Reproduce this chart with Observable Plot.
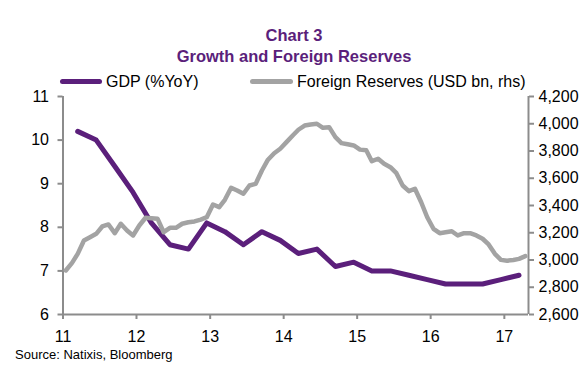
<!DOCTYPE html>
<html>
<head>
<meta charset="utf-8">
<script src="https://cdn.jsdelivr.net/npm/d3@7"></script>
<script src="https://cdn.jsdelivr.net/npm/@observablehq/plot@0.6"></script>
<style>
  body { margin: 0; background: #fff; font-family: "Liberation Sans", Arial, sans-serif; }
  #wrap { position: relative; width: 588px; height: 375px; overflow: hidden; background: #fff; }
  .title { position: absolute; left: 0; width: 588px; text-align: center; font-weight: bold;
           font-size: 16.5px; line-height: 20px; color: #5b1f7b; white-space: nowrap; z-index: 2; }
  .lg-line { position: absolute; height: 5px; border-radius: 2.5px; z-index: 2; }
  .lg-text { position: absolute; font-size: 16px; line-height: 20px; color: #000; white-space: nowrap; z-index: 2; }
  #chart { position: absolute; left: 0; top: 84px; z-index: 1; }
  .caption { position: absolute; left: 15px; top: 349px; font-size: 13px; line-height: 12px; color: #000; white-space: nowrap; z-index: 2; }
</style>
</head>
<body>
<div id="wrap">
  <div class="title" style="top:25px">Chart 3</div>
  <div class="title" style="top:46px">Growth and Foreign Reserves</div>
  <div class="lg-line" style="left:60px;top:79px;width:42px;background:#5b1f7b"></div>
  <div class="lg-text" style="left:106px;top:72px">GDP (%YoY)</div>
  <div class="lg-line" style="left:250px;top:79px;width:43px;background:#a3a3a3"></div>
  <div class="lg-text" style="left:297px;top:72px">Foreign Reserves (USD bn, rhs)</div>
  <div id="chart"></div>
  <div class="caption">Source: Natixis, Bloomberg</div>
</div>
<script>
// GDP (%YoY), quarterly, 2011Q1 .. 2017Q1
const gdpQuarters = ["2011Q1","2011Q2","2011Q3","2011Q4","2012Q1","2012Q2","2012Q3","2012Q4",
  "2013Q1","2013Q2","2013Q3","2013Q4","2014Q1","2014Q2","2014Q3","2014Q4",
  "2015Q1","2015Q2","2015Q3","2015Q4","2016Q1","2016Q2","2016Q3","2016Q4","2017Q1"];
const gdpValues = [10.2, 10.0, 9.4, 8.8, 8.1, 7.6, 7.5, 8.1,
  7.9, 7.6, 7.9, 7.7, 7.4, 7.5, 7.1, 7.2,
  7.0, 7.0, 6.9, 6.8, 6.7, 6.7, 6.7, 6.8, 6.9];

// Foreign reserves (USD bn), monthly, Jan 2011 .. Apr 2017
const reserveStart = "2011-01";
const reserveValues = [
  2923, 2979, 3045, 3143, 3167, 3192, 3246, 3261, 3197, 3266, 3217, 3180,
  3253, 3310, 3307, 3302, 3204, 3236, 3236, 3266, 3277, 3283, 3297, 3314,
  3407, 3388, 3442, 3530, 3510, 3486, 3547, 3559, 3657, 3736, 3784, 3817,
  3865, 3914, 3956, 3987, 3995, 4000, 3970, 3975, 3902, 3858, 3849, 3841,
  3810, 3805, 3725, 3743, 3706, 3681, 3637, 3547, 3505, 3523, 3424, 3314,
  3229, 3197, 3204, 3211, 3180, 3197, 3197, 3180, 3156, 3114, 3045, 3001,
  2995, 3000, 3008, 3028];

const yearTickLabels = ["11","12","13","14","15","16","17"];
const leftTicks = [6, 7, 8, 9, 10, 11];
const rightTicks = [2600, 2800, 3000, 3200, 3400, 3600, 3800, 4000, 4200];

const purple = "#5b1f7b";
const gray = "#a3a3a3";
const axisGray = "#8c8c8c";

// build tables
const gdp = gdpQuarters.map((q, i) => {
  const y = +q.slice(0, 4), qq = +q.slice(5);
  return {date: new Date(Date.UTC(y, qq * 3 - 1, 15)), v: gdpValues[i]};
});
const [sy, sm] = reserveStart.split("-").map(Number);
const reserves = reserveValues.map((v, i) => ({date: new Date(Date.UTC(sy, sm - 1 + i, 15)), v}));
const yearTicks = yearTickLabels.map(s => new Date(Date.UTC(2000 + +s, 0, 1)));

const xStart = new Date(Date.UTC(2011, 0, 1));
const xEnd = new Date(Date.UTC(2017, 4, 1));
const toLeft = d3.scaleLinear([2600, 4200], [6, 11]);

const chart = Plot.plot({
  width: 588,
  height: 264,
  marginTop: 12,
  marginBottom: 34,
  marginLeft: 62.5,
  marginRight: 60,
  style: {fontFamily: "'Liberation Sans', Arial, sans-serif", fontSize: "16px", background: "transparent", color: "#000", overflow: "visible"},
  x: {type: "utc", domain: [xStart, xEnd]},
  y: {domain: [6, 11]},
  marks: [
    Plot.axisX(yearTicks, {tickSize: 5, tickPadding: 11, tickFormat: d3.utcFormat("%y"), stroke: axisGray, strokeWidth: 2, label: null}),
    Plot.axisY(leftTicks, {anchor: "left", tickSize: 5, tickPadding: 9, stroke: axisGray, strokeWidth: 2, label: null}),
    Plot.axisY(rightTicks, {anchor: "right", y: toLeft, tickFormat: d3.format(","), tickSize: 5, tickPadding: 5, stroke: axisGray, strokeWidth: 2, label: null}),
    Plot.ruleY([6], {stroke: axisGray, strokeWidth: 2}),
    Plot.ruleX([xStart], {stroke: axisGray, strokeWidth: 2}),
    Plot.ruleX([xEnd], {stroke: axisGray, strokeWidth: 2}),
    Plot.line(gdp, {x: "date", y: "v", stroke: purple, strokeWidth: 5, strokeLinejoin: "round", strokeLinecap: "round"}),
    Plot.line(reserves, {x: "date", y: d => toLeft(d.v), stroke: gray, strokeWidth: 4.5, strokeLinejoin: "round", strokeLinecap: "round"})
  ]
});
document.getElementById("chart").appendChild(chart);
</script>
</body>
</html>
